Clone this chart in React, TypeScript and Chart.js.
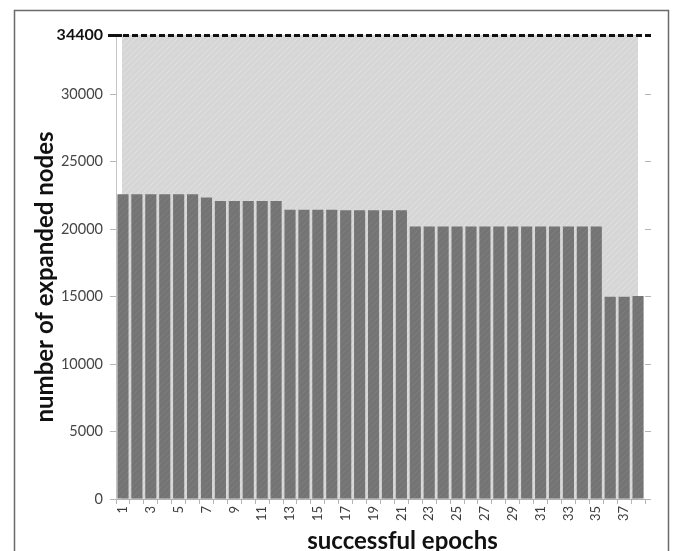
import React, { useEffect, useRef } from "react";
import { Chart, registerables } from "chart.js";

Chart.register(...registerables);

const epochs: string[] = Array.from({ length: 38 }, (_, i) => String(i + 1));
const expandedNodes: number[] = [
  22600, 22600, 22600, 22600, 22600, 22600, 22350, 22100, 22100, 22100,
  22100, 22100, 21450, 21450, 21450, 21450, 21400, 21400, 21400, 21400,
  21400, 20200, 20200, 20200, 20200, 20200, 20200, 20200, 20200, 20200,
  20200, 20200, 20200, 20200, 20200, 15000, 15000, 15050,
];
const yTickValues: number[] = [0, 5000, 10000, 15000, 20000, 25000, 30000, 34400];
const rightTickValues: number[] = [0, 5000, 10000, 15000, 20000, 25000, 30000];
const limitValue = 34400;
const yTitle = "number of expanded nodes";
const xTitle = "successful epochs";

const FONT = "Lato";

function makePattern(base: string, line: string): CanvasPattern | string {
  const c = document.createElement("canvas");
  c.width = 6;
  c.height = 6;
  const g = c.getContext("2d");
  if (!g) return base;
  g.fillStyle = base;
  g.fillRect(0, 0, 6, 6);
  g.strokeStyle = line;
  g.lineWidth = 1;
  g.beginPath();
  g.moveTo(0, 6);
  g.lineTo(6, 0);
  g.moveTo(-1, 1);
  g.lineTo(1, -1);
  g.moveTo(5, 7);
  g.lineTo(7, 5);
  g.stroke();
  const p = g.createPattern(c, "repeat");
  return p || base;
}

export default function App() {
  const ref = useRef<HTMLCanvasElement | null>(null);

  useEffect(() => {
    const canvas = ref.current;
    if (!canvas) return;
    const ctx0 = canvas.getContext("2d");
    if (!ctx0) return;

    const barPattern = makePattern("#747474", "#7e7e7e");
    const bgPattern = makePattern("#d6d6d6", "#e1e1e1");

    const decor = {
      id: "decor",
      beforeDraw(chart: any) {
        const { ctx, chartArea } = chart;
        const yScale = chart.scales.y;
        ctx.save();
        ctx.fillStyle = "#ffffff";
        ctx.fillRect(0, 0, chart.width, chart.height);
        // frame
        ctx.strokeStyle = "#6a6a6a";
        ctx.lineWidth = 1.5;
        ctx.beginPath();
        ctx.moveTo(14.5, chart.height + 5);
        ctx.lineTo(14.5, 10.5);
        ctx.lineTo(chart.width - 4.5, 10.5);
        ctx.lineTo(chart.width - 4.5, chart.height + 5);
        ctx.stroke();
        // hatched background
        const top = yScale.getPixelForValue(limitValue);
        ctx.fillStyle = bgPattern;
        ctx.fillRect(chartArea.left + 6, top, chartArea.right - 7 - (chartArea.left + 6), chartArea.bottom - top);
        ctx.restore();
      },
      afterDraw(chart: any) {
        const { ctx, chartArea } = chart;
        const yScale = chart.scales.y;
        const y = Math.round(yScale.getPixelForValue(limitValue)) + 0.5;
        ctx.save();
        ctx.strokeStyle = "#111111";
        ctx.lineWidth = 3;
        ctx.beginPath();
        ctx.moveTo(chartArea.left - 8, y);
        ctx.lineTo(chartArea.left + 6, y);
        ctx.stroke();
        ctx.setLineDash([6, 3]);
        ctx.beginPath();
        ctx.moveTo(chartArea.left + 7, y);
        ctx.lineTo(chartArea.right + 8, y);
        ctx.stroke();
        ctx.setLineDash([]);
        // titles
        ctx.fillStyle = "#111111";
        ctx.font = `bold 24px ${FONT}`;
        ctx.textAlign = "center";
        ctx.textBaseline = "alphabetic";
        ctx.fillText(xTitle, (chartArea.left + chartArea.right) / 2 + 22, chart.height - 2);
        ctx.translate(53, (chartArea.top + chartArea.bottom) / 2 + 10);
        ctx.rotate(-Math.PI / 2);
        ctx.fillText(yTitle, 0, 0);
        ctx.restore();
      },
    };

    const chart = new Chart(ctx0, {
      type: "bar",
      data: {
        labels: epochs,
        datasets: [
          {
            data: expandedNodes,
            backgroundColor: barPattern as any,
            borderWidth: 0,
            barPercentage: 0.8,
            categoryPercentage: 1,
            yAxisID: "y",
          },
        ],
      },
      options: {
        responsive: false,
        animation: false,
        devicePixelRatio: 1,
        layout: { padding: { top: 35, left: 0, right: 0, bottom: 0 } },
        plugins: {
          legend: { display: false },
          tooltip: { enabled: false },
          title: { display: false },
        },
        scales: {
          x: {
            type: "category",
            offset: true,
            grid: {
              display: true,
              drawOnChartArea: false,
              drawTicks: true,
              tickLength: 5,
              color: "#b5b5b5",
              offset: true,
            },
            border: { display: true, color: "#b0b0b0", width: 1 },
            ticks: {
              autoSkip: false,
              maxRotation: 90,
              minRotation: 90,
              padding: 2,
              color: "#3c3c3c",
              font: { family: FONT, size: 13 },
              callback: (_v: any, i: number) => (i % 2 === 0 ? epochs[i] : ""),
            },
            afterFit: (s: any) => {
              s.height = 52;
            },
          },
          y: {
            position: "left",
            min: 0,
            max: limitValue,
            afterBuildTicks: (s: any) => {
              s.ticks = yTickValues.map((v) => ({ value: v }));
            },
            grid: {
              display: true,
              drawOnChartArea: false,
              drawTicks: true,
              tickLength: 6,
              color: (c: any) => (c.tick && c.tick.value === limitValue ? "rgba(0,0,0,0)" : "#b5b5b5"),
            },
            border: { display: true, color: "#c4c4c4", width: 1 },
            ticks: {
              padding: 7,
              callback: (v: any) => String(v),
              color: (c: any) => (c.tick && c.tick.value === limitValue ? "#111111" : "#454545"),
              font: (c: any) =>
                c.tick && c.tick.value === limitValue
                  ? { family: FONT, size: 16, weight: "bold" }
                  : { family: FONT, size: 14.5 },
            },
            afterFit: (s: any) => {
              s.width = 116;
            },
          },
          y2: {
            position: "right",
            display: true,
            min: 0,
            max: limitValue,
            afterBuildTicks: (s: any) => {
              s.ticks = rightTickValues.map((v) => ({ value: v }));
            },
            grid: {
              display: true,
              drawOnChartArea: false,
              drawTicks: true,
              tickLength: 6,
              color: "#b5b5b5",
            },
            border: { display: false },
            ticks: { display: false },
            afterFit: (s: any) => {
              s.width = 28;
            },
          },
        },
      },
      plugins: [decor],
    });

    return () => chart.destroy();
  }, []);

  return (
    <div style={{ position: "absolute", left: 0, top: 0, width: 673, height: 551 }}>
      <canvas ref={ref} width={673} height={551} style={{ width: 673, height: 551, display: "block" }} />
    </div>
  );
}
